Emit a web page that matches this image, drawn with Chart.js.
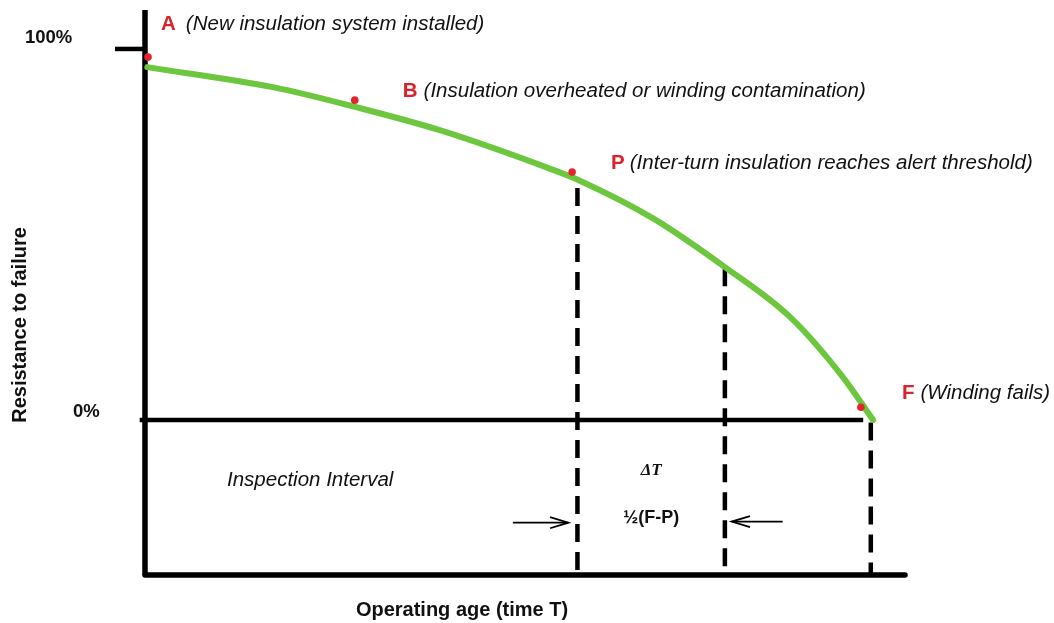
<!DOCTYPE html>
<html>
<head>
<meta charset="utf-8">
<script src="https://cdn.jsdelivr.net/npm/chart.js@4.4.1/dist/chart.umd.min.js"></script>
<style>
  html, body { margin: 0; padding: 0; background: #fff; }
  #wrap { width: 1054px; height: 623px; position: relative; }
</style>
</head>
<body>
<div id="wrap"><canvas id="pfCurve"></canvas></div>
<script>
// resistance curve (x = operating age, y = % resistance)
const curveAge = [0.3, 16.8, 27.8, 38.8, 53.7, 57.0, 66.8, 76.3, 84.9, 91.8, 95.8];
const curveResistance = [95.1, 89.7, 84.3, 78.1, 67.4, 64.7, 54.4, 41.2, 27.7, 11.6, 0.0];

// marked events
const markerLetters = ['A', 'B', 'P', 'F'];
const markerNotes = [
  '(New insulation system installed)',
  '(Insulation overheated or winding contamination)',
  '(Inter-turn insulation reaches alert threshold)',
  '(Winding fails)'
];
const markerAge = [0.4, 27.6, 56.2, 94.2];
const markerResistance = [97.8, 86.2, 66.8, 3.4];

// dashed verticals: P, half way, F
const intervalAge = [56.9, 76.3, 95.5];
const intervalTop = [62.5, 40.9, -0.7];

// axis extents
const yTickValues = [100, 0];
const yTickLabels = ['100%', '0%'];
const ageMax = 100;
const floorValue = -41.8;
const axisTop = 110.5;

// arrows pointing at the inspection interval
const arrowTail = [48.4, 83.9];
const arrowTip = [55.7, 77.2];
const arrowLevel = [-27.7, -27.4];

const xTitle = 'Operating age (time T)';
const yTitle = 'Resistance to failure';
const intervalLabel = 'Inspection Interval';
const deltaLabel = 'ΔT';
const halfLabel = '½(F-P)';

// ---- build datasets ----
function seg(x1, y1, x2, y2) {
  return [{ x: x1, y: y1 }, { x: x2, y: y2 }];
}

let datasets = [];

datasets.push({
  label: 'events',
  data: markerAge.map((a, i) => ({ x: a, y: markerResistance[i] })),
  showLine: false,
  pointRadius: 3.8,
  pointBackgroundColor: '#e2262b',
  pointBorderWidth: 0,
  order: 0
});

datasets.push({
  label: 'resistance',
  data: curveAge.map((a, i) => ({ x: a, y: curveResistance[i] })),
  showLine: true,
  borderColor: '#6cc63e',
  borderWidth: 6,
  borderCapStyle: 'round',
  borderJoinStyle: 'round',
  cubicInterpolationMode: 'monotone',
  pointRadius: 0,
  order: 1
});

intervalAge.forEach((a, i) => {
  datasets.push({
    label: 'interval' + i,
    data: seg(a, intervalTop[i], a, floorValue),
    showLine: true,
    borderColor: '#000',
    borderWidth: 4.5,
    borderDash: [18, 10],
    pointRadius: 0,
    order: 2
  });
});

// axes, 0% baseline, 100% tick
const axisLines = [
  seg(0, floorValue, 0, axisTop),
  seg(0, floorValue, ageMax, floorValue),
  seg(-0.7, 0, 94.5, 0),
  seg(-3.95, 100, 0, 100)
];
axisLines.forEach((d, i) => {
  datasets.push({
    label: 'axis' + i,
    data: d,
    showLine: true,
    borderColor: '#000',
    borderWidth: i < 2 ? 5.5 : 4.5,
    borderCapStyle: i == 1 ? 'round' : 'butt',
    pointRadius: 0,
    order: 3
  });
});

arrowTail.forEach((t, i) => {
  const dir = arrowTip[i] > t ? 1 : -1;
  datasets.push({
    label: 'arrow' + i,
    data: seg(t, arrowLevel[i], arrowTip[i], arrowLevel[i]),
    showLine: true,
    borderColor: '#000',
    borderWidth: 1.8,
    pointRadius: 0,
    order: 3
  });
  datasets.push({
    label: 'head' + i,
    data: [
      { x: arrowTip[i] - dir * 2.4, y: arrowLevel[i] + 1.5 },
      { x: arrowTip[i], y: arrowLevel[i] },
      { x: arrowTip[i] - dir * 2.4, y: arrowLevel[i] - 1.5 }
    ],
    showLine: true,
    borderColor: '#000',
    borderWidth: 1.8,
    pointRadius: 0,
    order: 3
  });
});

// label placement relative to each marker, in pixels
const letterOffset = [[13, -33], [48, -9], [39, -9], [41, -14]];
const noteGap = [10, 6, 5, 6];

const textPlugin = {
  id: 'pfText',
  afterDatasetsDraw(chart) {
    const ctx = chart.ctx;
    const x = chart.scales.x;
    const y = chart.scales.y;
    ctx.save();
    ctx.textBaseline = 'middle';
    ctx.fillStyle = '#111';

    // y tick labels
    ctx.font = 'bold 18.5px "Liberation Sans", Arial, sans-serif';
    ctx.textAlign = 'left';
    ctx.fillText(yTickLabels[0], 25, y.getPixelForValue(yTickValues[0]) - 11);
    ctx.fillText(yTickLabels[1], 73, y.getPixelForValue(yTickValues[1]) - 8);

    // marker letters + notes
    markerLetters.forEach((l, i) => {
      const px = x.getPixelForValue(markerAge[i]) + letterOffset[i][0];
      const py = y.getPixelForValue(markerResistance[i]) + letterOffset[i][1];
      ctx.font = 'bold 20.5px "Liberation Sans", Arial, sans-serif';
      ctx.fillStyle = '#d8232a';
      ctx.fillText(l, px, py);
      const w = ctx.measureText(l).width;
      ctx.font = 'italic 20.5px "Liberation Sans", Arial, sans-serif';
      ctx.fillStyle = '#111';
      ctx.fillText(markerNotes[i], px + w + noteGap[i], py);
    });

    // inspection interval text
    ctx.font = 'italic 20.5px "Liberation Sans", Arial, sans-serif';
    ctx.fillText(intervalLabel, 227, 480);

    const mid = (x.getPixelForValue(intervalAge[0]) + x.getPixelForValue(intervalAge[1])) / 2;
    ctx.textAlign = 'center';
    ctx.font = 'bold italic 17px "Liberation Serif", "Times New Roman", serif';
    ctx.fillText(deltaLabel, mid, 471);
    ctx.font = 'bold 18px "Liberation Sans", Arial, sans-serif';
    ctx.fillText(halfLabel, mid, 518);

    // axis titles
    ctx.font = 'bold 20px "Liberation Sans", Arial, sans-serif';
    ctx.fillText(xTitle, 462, 610);
    ctx.translate(20, 325);
    ctx.rotate(-Math.PI / 2);
    ctx.fillText(yTitle, 0, 0);
    ctx.restore();
  }
};

const myChart = new Chart(document.getElementById('pfCurve'), {
  type: 'scatter',
  data: { datasets: datasets },
  options: {
    responsive: true,
    maintainAspectRatio: false,
    animation: false,
    events: [],
    layout: { padding: { left: 145, right: 149, top: 10, bottom: 48 } },
    elements: { line: { fill: false } },
    datasets: { scatter: { clip: false } },
    plugins: { legend: { display: false }, tooltip: { enabled: false } },
    scales: {
      x: { type: 'linear', min: 0, max: ageMax, display: false },
      y: { type: 'linear', min: floorValue, max: axisTop, display: false }
    }
  },
  plugins: [textPlugin]
});
</script>
</body>
</html>
